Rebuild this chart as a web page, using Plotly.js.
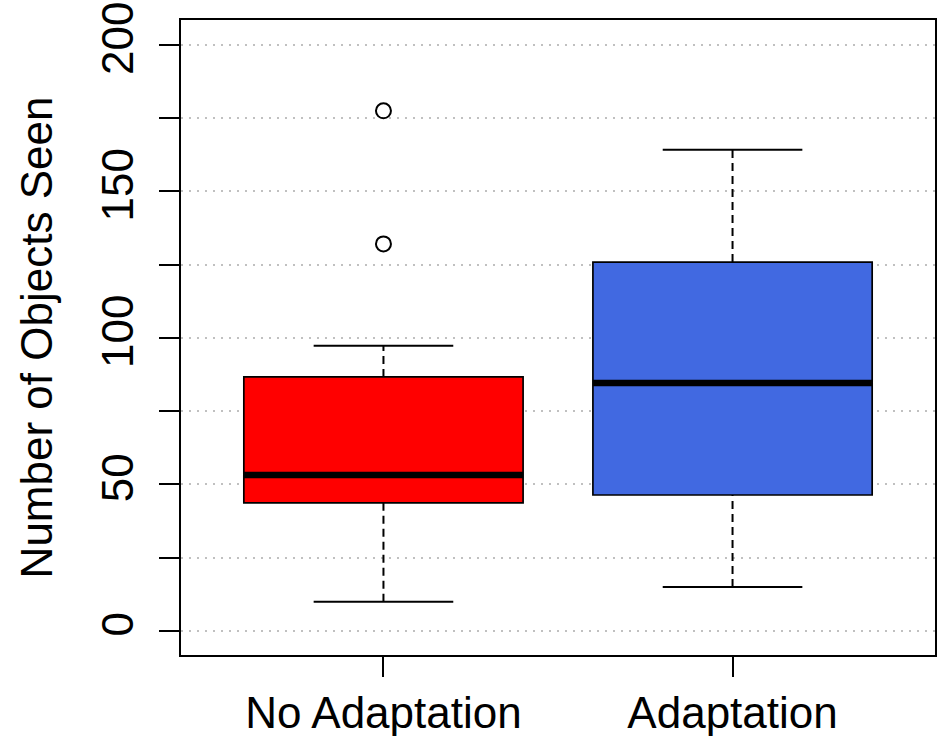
<!DOCTYPE html>
<html>
<head>
<meta charset="utf-8">
<script src="https://cdn.plot.ly/plotly-3.0.1.min.js"></script>
<style>html,body{margin:0;padding:0;background:#fff;}#chart{width:937px;height:736px;}</style>
</head>
<body>
<div id="chart"></div>
<script>
// Data
const categories = ["No Adaptation", "Adaptation"];
const positions = [1, 2];
const lowerWhisker = [10, 15];
const q1 = [43.7, 46.4];
const median = [53.2, 84.6];
const q3 = [86.7, 125.9];
const upperWhisker = [97.3, 164.2];
const outlierGroup = [1, 1];
const outlierValues = [132.1, 177.5];
const boxColors = ["#FF0000", "#4169E1"];
const yTickVals = [0, 25, 50, 75, 100, 125, 150, 175, 200];
const yTickText = ["0", "", "50", "", "100", "", "150", "", "200"];

const boxHalf = 0.4, capHalf = 0.2;
const traces = [];
for (let i = 0; i < categories.length; i++) {
  const x = positions[i];
  traces.push({type: "scatter", mode: "lines", x: [x, x, null, x, x], y: [lowerWhisker[i], q1[i], null, q3[i], upperWhisker[i]],
    line: {color: "black", width: 2, dash: "8px,5px"}, hoverinfo: "skip", showlegend: false});
  traces.push({type: "scatter", mode: "lines", x: [x - capHalf, x + capHalf, null, x - capHalf, x + capHalf],
    y: [lowerWhisker[i], lowerWhisker[i], null, upperWhisker[i], upperWhisker[i]],
    line: {color: "black", width: 2}, hoverinfo: "skip", showlegend: false});
  traces.push({type: "box", x: [x], q1: [q1[i]], median: [median[i]], q3: [q3[i]], lowerfence: [q1[i]], upperfence: [q3[i]],
    width: 2 * boxHalf, fillcolor: boxColors[i], line: {color: "black", width: 1.7}, whiskerwidth: 0, showlegend: false,
    boxpoints: false, opacity: 1});
  traces.push({type: "scatter", mode: "lines", x: [x - boxHalf, x + boxHalf], y: [median[i], median[i]],
    line: {color: "black", width: 6.5}, hoverinfo: "skip", showlegend: false});
}
traces.push({type: "scatter", mode: "markers", x: outlierGroup, y: outlierValues,
  marker: {symbol: "circle-open", size: 15, color: "black", line: {width: 2, color: "black"}}, showlegend: false});

const font = {family: "Liberation Sans, Arial, sans-serif", size: 44, color: "black"};
const layout = {
  width: 937, height: 736,
  margin: {l: 181, r: 2, t: 20, b: 81, autoexpand: false},
  paper_bgcolor: "white", plot_bgcolor: "white",
  showlegend: false,
  font: font,
  xaxis: {
    range: [0.42, 2.58], tickvals: positions, ticktext: categories,
    showgrid: false, zeroline: false, automargin: false,
    showline: true, mirror: true, linecolor: "black", linewidth: 2,
    ticks: "outside", ticklen: 20, tickwidth: 2, tickcolor: "black",
    ticklabelstandoff: -2,
    tickfont: font
  },
  yaxis: {
    range: [-8.2, 208.5], tickvals: yTickVals, ticktext: yTickText,
    tickangle: -90, automargin: false,
    showgrid: true, gridcolor: "#c0c0c0", griddash: "2px,6px", gridwidth: 2,
    zeroline: false,
    showline: true, mirror: true, linecolor: "black", linewidth: 2,
    ticks: "outside", ticklen: 20, tickwidth: 2, tickcolor: "black",
    ticklabelstandoff: 8,
    tickfont: font,
    title: {text: "Number of Objects Seen", font: font, standoff: 27}
  }
};
Plotly.newPlot("chart", traces, layout, {displayModeBar: false, staticPlot: true});
</script>
</body>
</html>
